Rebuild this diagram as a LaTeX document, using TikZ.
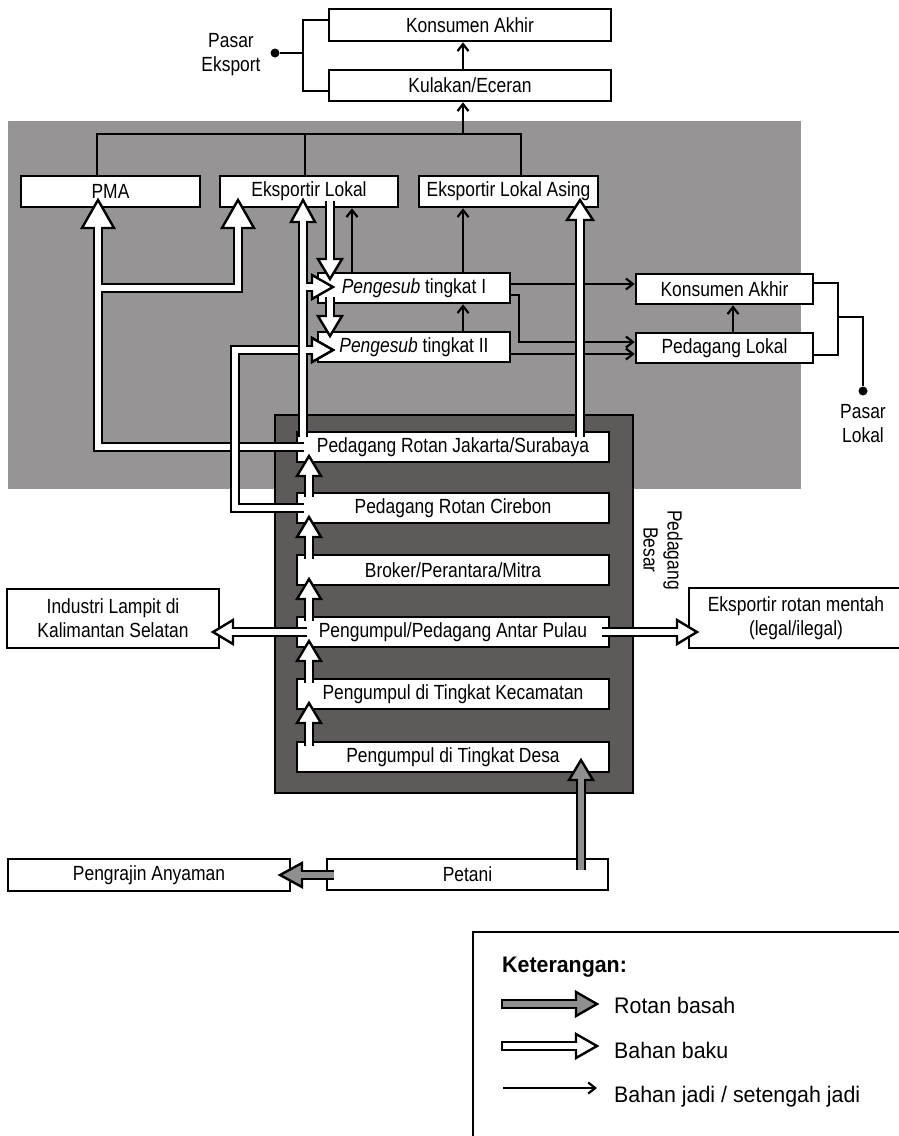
\documentclass[tikz,border=0pt]{standalone}
\usepackage{fontspec}
\setmainfont{Liberation Sans}[FakeStretch=0.85]
\newfontfamily\legendfont{Liberation Sans}[FakeStretch=0.95]
\usetikzlibrary{arrows.meta}
\definecolor{zonegray}{RGB}{150,148,149}
\definecolor{darkzone}{RGB}{94,90,90}
\definecolor{wetgray}{RGB}{143,143,143}
% arrow heads of the wide (hollow) arrows: tip x, tip y, length, half width, fill
\newcommand\ahU[5]{\filldraw[headline,fill=#5] (#1,#2) -- ({#1+#4},{#2+#3}) -- ({#1-#4},{#2+#3}) -- cycle;}
\newcommand\ahD[5]{\filldraw[headline,fill=#5] (#1,#2) -- ({#1+#4},{#2-#3}) -- ({#1-#4},{#2-#3}) -- cycle;}
\newcommand\ahR[5]{\filldraw[headline,fill=#5] (#1,#2) -- ({#1-#3},{#2-#4}) -- ({#1-#3},{#2+#4}) -- cycle;}
\newcommand\ahL[5]{\filldraw[headline,fill=#5] (#1,#2) -- ({#1+#3},{#2-#4}) -- ({#1+#3},{#2+#4}) -- cycle;}
\begin{document}
\begin{tikzpicture}[x=1pt,y=-1pt,
  txt/.style={font=\fontsize{20.5}{24}\selectfont},
  box/.style={txt,draw=black,line width=2.6pt,fill=white,inner sep=0pt,align=center},
  lbl/.style={txt,inner sep=0pt,align=center},
  dot/.style={circle,fill=black,inner sep=0pt,minimum size=9pt},
  conn/.style={line width=2.2pt,draw=black},
  tip/.style={-{Straight Barb[length=7pt,width=11pt]}},
  wout/.style={line width=10.5pt,draw=black,line join=miter},
  win/.style={line width=5.7pt,draw=white,line join=miter},
  gin/.style={line width=5.7pt,draw=wetgray,line join=miter},
  headline/.style={line width=2.4pt,draw=black,line join=miter},
  legtxt/.style={font=\legendfont\fontsize{22.5}{27}\selectfont,inner sep=0pt}]
\useasboundingbox (0,0) rectangle (899,1136);
\clip (0,0) rectangle (899,1136);
\fill[white] (0,0) rectangle (899,1136);

% shaded zones
\fill[zonegray] (8,121) rectangle (801,489);
\filldraw[fill=darkzone,draw=black,line width=2.6pt] (275,415) rectangle (633,793);

% export market
\node[box,minimum width=282,minimum height=32] (konT) at (470,25) {Konsumen Akhir};
\node[box,minimum width=282,minimum height=31] (kul) at (470,85.5) {Kulakan/Eceran};
\node[lbl] (pasarE) at (231,55) {Pasar\\Eksport};
\node[dot] (dE) at (275,53) {};

% exporters
\node[box,minimum width=179,minimum height=31] (pma) at (110.5,191.5) {PMA};
\node[box,minimum width=178,minimum height=31] (ekl) at (309,191.5) {Eksportir Lokal};
\node[box,minimum width=179,minimum height=31] (ela) at (508.5,191.5) {Eksportir Lokal Asing};

% pengesub
\node[box,minimum width=192,minimum height=30] (pg1) at (414,288) {\textit{Pengesub} tingkat I};
\node[box,minimum width=192,minimum height=30] (pg2) at (414,347) {\textit{Pengesub} tingkat II};

% local market
\node[box,minimum width=177,minimum height=30] (konR) at (724.5,289) {Konsumen Akhir};
\node[box,minimum width=177,minimum height=30] (plk) at (724.5,348) {Pedagang Lokal};
\node[dot] (dL) at (863,391) {};
\node[lbl] (pasarL) at (863,424) {Pasar\\Lokal};

% traders
\node[box,minimum width=312,minimum height=30] (js) at (453,447) {Pedagang Rotan Jakarta/Surabaya};
\node[box,minimum width=312,minimum height=30] (cir) at (453,508) {Pedagang Rotan Cirebon};
\node[box,minimum width=312,minimum height=30] (brk) at (453,570) {Broker/Perantara/Mitra};
\node[box,minimum width=312,minimum height=30] (ap) at (453,632) {Pengumpul/Pedagang Antar Pulau};
\node[box,minimum width=312,minimum height=30] (kec) at (453,694) {Pengumpul di Tingkat Kecamatan};
\node[box,minimum width=312,minimum height=30] (desa) at (453,757) {Pengumpul di Tingkat Desa};
\node[lbl,rotate=-90] (besar) at (663,550) {Pedagang\\Besar};

\node[box,minimum width=212,minimum height=59] (ind) at (113,618.5) {Industri Lampit di\\Kalimantan Selatan};
\node[box,minimum width=214,minimum height=60] (eksm) at (796,618) {Eksportir rotan mentah\\(legal/ilegal)};

\node[box,minimum width=281,minimum height=31] (petani) at (467.5,874.5) {Petani};
\node[box,minimum width=282,minimum height=32] (peng) at (149,875) {Pengrajin Anyaman};

% thin connectors (finished / half-finished goods)
\draw[conn] (dE) -- (303,53);
\draw[conn] (konT.west |- 0,20) -- (303,20) -- (303,91) -- (kul.west |- 0,91);
\draw[conn,tip] (kul.north -| 463,0) -- (konT.south -| 463,0);
\draw[conn,tip] (463,134) -- (kul.south -| 463,0);
\draw[conn] (pma.north -| 97,0) -- (97,134) -- (521,134) -- (ela.north -| 521,0);
\draw[conn] (ekl.north -| 305,0) -- (305,134);
\draw[conn,tip] (pg1.east |- 0,284) -- (konR.west |- 0,284);
\draw[conn,tip] (pg1.east |- 0,295) -- (519,295) -- (519,342) -- (plk.west |- 0,342);
\draw[conn,tip] (pg2.east |- 0,354) -- (plk.west |- 0,354);
\draw[conn,tip] (plk.north -| 733,0) -- (konR.south -| 733,0);
\draw[conn,tip] (pg2.north -| 463,0) -- (pg1.south -| 463,0);
\draw[conn,tip] (pg1.north -| 463,0) -- (ela.south -| 463,0);
\draw[conn,tip] (pg1.north -| 352,0) -- (ekl.south -| 352,0);
\draw[conn] (konR.east |- 0,283) -- (838,283) -- (838,355) -- (plk.east |- 0,355);
\draw[conn] (838,317) -- (863,317) -- (dL);

% wide arrows (raw material)
% Jakarta/Surabaya -> PMA and Eksportir Lokal
\draw[wout] (304,447) -- (98,447) -- (98,225);
\draw[wout] (98,288) -- (238,288) -- (238,225);
\ahU{98}{200}{28}{16}{white}
\ahU{238}{200}{28}{16}{white}
\draw[win] (304,447) -- (98,447) -- (98,225);
\draw[win] (98,288) -- (238,288) -- (238,225);

% Cirebon -> Pengesub II
\draw[wout] (304,508) -- (235,508) -- (235,350) -- (315,350);
\ahR{333}{350}{21}{12}{white}
\draw[win] (304,508) -- (235,508) -- (235,350) -- (315,350);

% Jakarta/Surabaya -> Eksportir Lokal, Pengesub I and II
\draw[wout] (303,437) -- (303,219);
\draw[wout] (303,287) -- (315,287);
\draw[wout] (303,350) -- (315,350);
\ahU{303}{200}{22}{12}{white}
\ahR{333}{287}{21}{12}{white}
\ahR{333}{350}{21}{12}{white}
\draw[win] (303,437) -- (303,219);
\draw[win] (303,287) -- (315,287);
\draw[win] (303,350) -- (315,350);

% Eksportir Lokal -> Pengesub I -> Pengesub II
\draw[wout] (330,201) -- (330,262);
\ahD{330}{279}{20}{12}{white}
\draw[win] (330,201) -- (330,262);
\draw[wout] (330,297) -- (330,319);
\ahD{330}{336}{20}{12}{white}
\draw[win] (330,297) -- (330,319);

% Jakarta/Surabaya -> Eksportir Lokal Asing
\draw[wout] (580,437) -- (580,217);
\ahU{580}{200}{20}{13}{white}
\draw[win] (580,437) -- (580,217);

% chain of traders
\foreach \lo/\hi in {497/456,559/517,621/579,683/641,746/703}{
  \draw[wout] (309,\lo) -- (309,\hi+17);
  \ahU{309}{\hi}{20}{12}{white}
  \draw[win] (309,\lo) -- (309,\hi+17);
}

% Antar Pulau -> Industri Lampit, Eksportir rotan mentah
\draw[wout] (307,632) -- (230,632);
\ahL{213}{632}{20}{12}{white}
\draw[win] (307,632) -- (230,632);
\draw[wout] (602,632) -- (680,632);
\ahR{697}{632}{20}{12}{white}
\draw[win] (602,632) -- (680,632);

% wet rattan from the farmers
\draw[wout] (581,870) -- (581,777);
\ahU{581}{760}{20}{12}{wetgray}
\draw[gin] (581,870) -- (581,777);
\draw[wout] (334,875) -- (299,875);
\ahL{280}{875}{22}{12}{wetgray}
\draw[gin] (334,875) -- (299,875);

% legend
\draw[line width=2.6pt] (473,932) rectangle (930,1160);
\node[legtxt,anchor=base west,font=\legendfont\bfseries\fontsize{22.5}{27}\selectfont] (kt) at (502,972) {Keterangan:};
\draw[wout] (501,1004) -- (579,1004);
\ahR{597}{1004}{21}{12}{wetgray}
\draw[gin] (503.4,1004) -- (579,1004);
\node[legtxt,anchor=base west] (l1) at (614,1013) {Rotan basah};
\draw[wout] (501,1046) -- (579,1046);
\ahR{597}{1046}{21}{12}{white}
\draw[win] (503.4,1046) -- (579,1046);
\node[legtxt,anchor=base west] (l2) at (614,1058) {Bahan baku};
\coordinate (l3s) at (503,1088);
\node[legtxt,anchor=base west] (l3) at (614,1102) {Bahan jadi / setengah jadi};
\draw[conn,tip] (l3s) -- (597,1088);
\end{tikzpicture}
\end{document}
